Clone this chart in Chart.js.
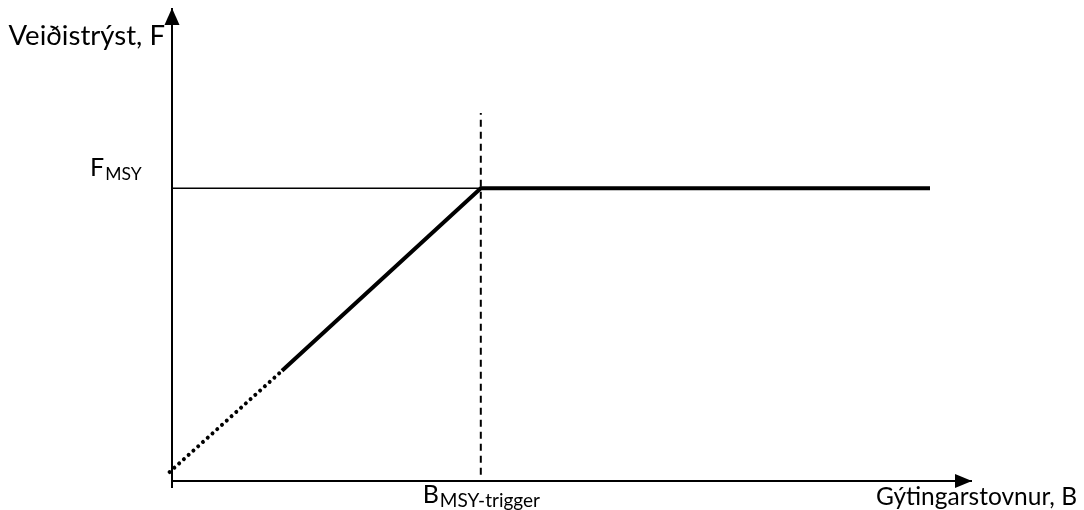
<!DOCTYPE html>
<html><head><meta charset="utf-8">
<script src="https://cdn.jsdelivr.net/npm/chart.js@4"></script>
<style>html,body{margin:0;padding:0;background:#fff;overflow:hidden}#wrap{width:1084px;height:510px}</style>
</head><body><div id="wrap"><canvas id="c" width="1084" height="510"></canvas></div>
<script>
// Data (arbitrary units: x = spawning stock B, y = fishing mortality F)
const xAxisX = [0, 100], xAxisY = [0, 0];
const yAxisX = [0, 0], yAxisY = [-1.5, 100];
const fMsyLineX = [0, 38.6], fMsyLineY = [61.9, 61.9];
const triggerX = [38.6, 38.6], triggerY = [1.3, 77.8];
const hcrDottedX = [-0.3, 13.75], hcrDottedY = [1.9, 23.3];
const hcrSolidX = [13.75, 38.6, 94.75], hcrSolidY = [23.3, 61.9, 61.9];
const yAxisTitle = 'Veiðistrýst, F';
const xAxisTitle = 'Gýtingarstovnur, B';
const fLabel = ['F', 'MSY'];
const bLabel = ['B', 'MSY-trigger'];
const bTrigger = 38.6, fMsy = 61.9;

const pts = (xs, ys) => xs.map((x, i) => ({x: x, y: ys[i]}));
const base = {showLine: true, pointRadius: 0, borderColor: '#000', fill: false, clip: false, tension: 0};

const FONT = 'Lato, Carlito, sans-serif';

function drawText(ctx, main, sub, x, y, align, mainSize, subSize, sx, drop) {
  ctx.save();
  ctx.fillStyle = '#000';
  ctx.textBaseline = 'alphabetic';
  ctx.textAlign = 'left';
  ctx.font = mainSize + 'px ' + FONT;
  const w1 = ctx.measureText(main).width * sx;
  let w2 = 0;
  if (sub) { ctx.font = subSize + 'px ' + FONT; w2 = ctx.measureText(sub).width * sx; }
  const total = w1 + w2;
  let x0 = x;
  if (align === 'right') x0 = x - total;
  else if (align === 'center') x0 = x - total / 2;
  ctx.translate(x0, y);
  ctx.scale(sx, 1);
  ctx.font = mainSize + 'px ' + FONT;
  ctx.fillText(main, 0, 0);
  if (sub) {
    ctx.font = subSize + 'px ' + FONT;
    ctx.fillText(sub, w1 / sx + 1, drop);
  }
  ctx.restore();
}

const decor = {
  id: 'decor',
  afterDatasetsDraw(chart) {
    const ctx = chart.ctx;
    const sx = chart.scales.x, sy = chart.scales.y;
    const ox = sx.getPixelForValue(0), oy = sy.getPixelForValue(0);
    const topY = sy.getPixelForValue(100), rightX = sx.getPixelForValue(100);
    ctx.save();
    ctx.fillStyle = '#000';
    ctx.beginPath();
    ctx.moveTo(ox, topY);
    ctx.lineTo(ox - 7.5, topY + 17);
    ctx.lineTo(ox + 7.5, topY + 17);
    ctx.closePath(); ctx.fill();
    ctx.beginPath();
    ctx.moveTo(rightX, oy);
    ctx.lineTo(rightX - 17, oy - 7);
    ctx.lineTo(rightX - 17, oy + 7);
    ctx.closePath(); ctx.fill();
    ctx.restore();
    drawText(ctx, yAxisTitle, null, ox - 7, topY + 37, 'right', 26, 0, 1.06, 0);
    drawText(ctx, fLabel[0], fLabel[1], ox - 82, sy.getPixelForValue(fMsy) - 12, 'left', 25, 17.5, 1.0, 4);
    drawText(ctx, bLabel[0], bLabel[1], sx.getPixelForValue(bTrigger), oy + 22, 'center', 25, 19, 1.0, 4);
    drawText(ctx, xAxisTitle, null, rightX + 105, oy + 24, 'right', 24.5, 0, 1.0, 0);
  }
};

new Chart(document.getElementById('c'), {
  type: 'scatter',
  data: {
    datasets: [
      Object.assign({}, base, {data: pts(xAxisX, xAxisY), borderWidth: 2}),
      Object.assign({}, base, {data: pts(yAxisX, yAxisY), borderWidth: 2}),
      Object.assign({}, base, {data: pts(fMsyLineX, fMsyLineY), borderWidth: 1.5}),
      Object.assign({}, base, {data: pts(triggerX, triggerY), borderWidth: 2, borderDash: [7, 5]}),
      Object.assign({}, base, {data: pts(hcrDottedX, hcrDottedY), borderWidth: 4, borderDash: [0.01, 6.4], borderCapStyle: 'round'}),
      Object.assign({}, base, {data: pts(hcrSolidX, hcrSolidY), borderWidth: 4, borderJoinStyle: 'miter'})
    ]
  },
  options: {
    responsive: false,
    devicePixelRatio: 1,
    animation: false,
    events: [],
    layout: {padding: {left: 172, right: 112, top: 8, bottom: 29}},
    plugins: {legend: {display: false}, tooltip: {enabled: false}},
    scales: {
      x: {type: 'linear', min: 0, max: 100, display: false},
      y: {type: 'linear', min: 0, max: 100, display: false}
    }
  },
  plugins: [decor]
});
</script></body></html>
